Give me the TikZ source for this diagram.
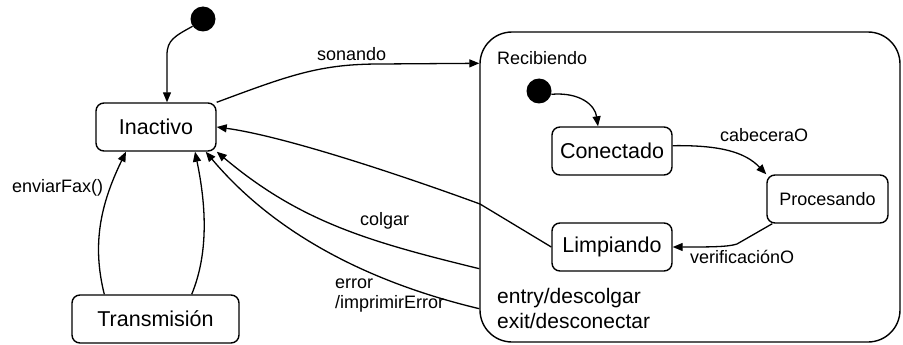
\documentclass[tikz,border=0pt]{standalone}
\usepackage{fontspec}
\setmainfont{Liberation Sans}
\usetikzlibrary{arrows.meta,calc}

\tikzset{
  state/.style={draw, line width=1.4pt, rounded corners=8pt, minimum width=120pt,
    minimum height=48pt, inner sep=0pt, font=\fontsize{21.5}{25}\selectfont},
  startdot/.style={circle, fill=black, minimum size=25pt, inner sep=0pt},
  trans/.style={line width=1.3pt, -{Triangle[length=10pt,width=8pt]}},
  lbl/.style={inner sep=0pt, anchor=base west, font=\fontsize{18}{20}\selectfont},
}

\begin{document}
\begin{tikzpicture}[x=1pt,y=-1pt]
    \useasboundingbox (0,0) rectangle (903,345);

    %% Top level states
    \node[startdot] (ini) at (203,19) {};
    \node[state] (inactivo) at (156,127) {Inactivo};
    \node[state, minimum width=167pt] (transmision) at (155.5,319) {Transmisión};

    %% Composite state
    \node[draw, line width=1.4pt, rounded corners=32pt, minimum width=420pt,
      minimum height=310pt] (recibiendo) at (690,187) {};
    \node[lbl] at (497,65) {Recibiendo};
    \node[lbl, font=\fontsize{21}{25}\selectfont] at (497,303) {entry/descolgar};
    \node[lbl, font=\fontsize{21}{25}\selectfont] at (497,328) {exit/desconectar};

    % Inner states
    \node[startdot] (iniRec) at (539,91) {};
    \node[state] (conectado) at (612,151) {Conectado};
    \node[state, minimum width=121pt, font=\fontsize{18}{22}\selectfont] (procesando) at (827.5,199) {Procesando};
    \node[state] (limpiando) at (612,247) {Limpiando};

    %% Transitions
    % Initial
    \draw[trans] (ini.215) .. controls (175,36) and (167,40) .. (167,55) -- ($(inactivo.north)+(11,0)$);

    % Ringing
    \draw[trans] (inactivo.north east) .. controls (290,75) and (320,64) .. (380,64) -- ($(recibiendo.north west)+(0,32)$);
    \node[lbl] at (317,61) {sonando};

    % Sending
    \draw[trans] ($(transmision.north west)+(33,0)$) .. controls (92,245) and (100,205) .. ($(inactivo.south)+(-30,0)$);
    \draw[trans] ($(transmision.north east)+(-48,0)$) .. controls (210,250) and (205,200) .. ($(inactivo.south)+(39,0)$);
    \node[lbl] at (12,192) {enviarFax()};

    % Back to idle
    \draw[trans] (limpiando.west) -- (480,204) .. controls (420,182) and (290,137) .. (inactivo.east);
    \draw[trans] ($(recibiendo.south west)+(0,-74)$) .. controls (370,242) and (300,222) .. (inactivo.south east);
    \node[lbl] at (360,225) {colgar};
    \draw[trans] ($(recibiendo.south west)+(0,-34)$) .. controls (380,285) and (280,240) .. ($(inactivo.south east)+(-11,0)$);
    \node[lbl, align=left] at (335,308) {error\\/imprimirError};

    % Inner transitions
    \draw[trans] (iniRec.-15) .. controls (580,92) and (595,105) .. ($(conectado.north)+(-14,0)$);
    \draw[trans] (conectado.5) .. controls (720,145) and (745,152) .. (procesando.north west);
    \node[lbl] at (720,142) {cabeceraO};
    \draw[trans] ($(procesando.south west)+(6,0)$) -- (737,244) .. controls (728,247) and (710,247) .. (limpiando.east);
    \node[lbl] at (690,263) {verificaciónO};

\end{tikzpicture}
\end{document}
